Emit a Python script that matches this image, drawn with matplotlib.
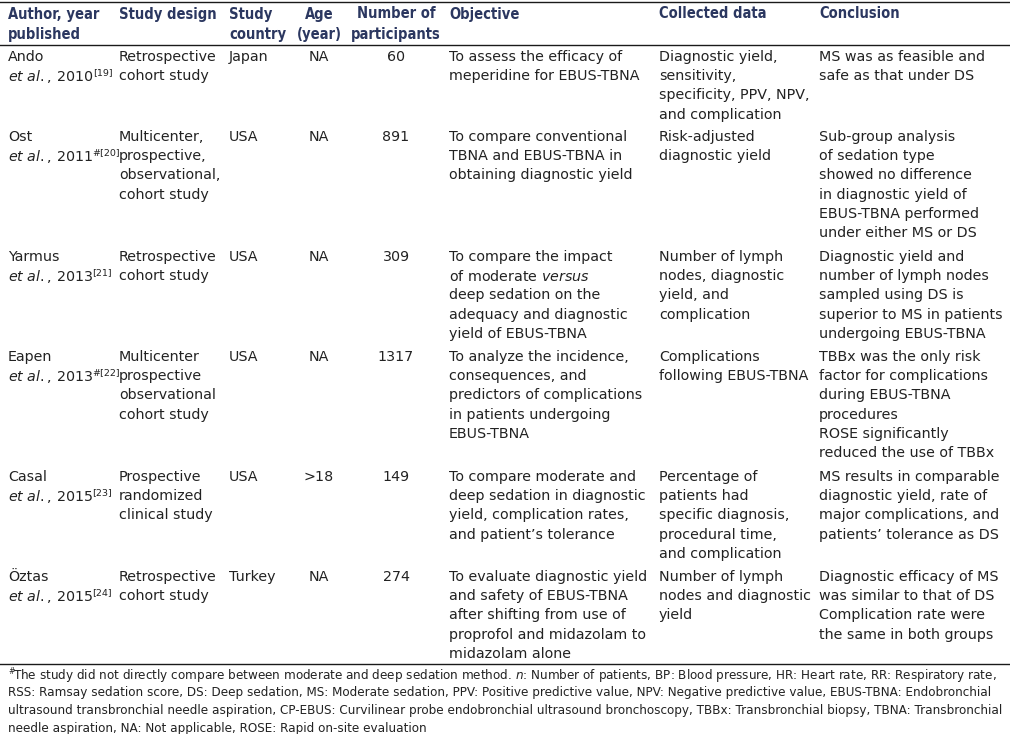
import matplotlib.pyplot as plt

plt.rcParams['font.family'] = ['DejaVu Sans']
plt.rcParams['mathtext.fontset'] = 'dejavusans'

# table content
headers = [["Author, year", "published"], ["Study design"], ["Study", "country"],
           ["Age", "(year)"], ["Number of", "participants"], ["Objective"],
           ["Collected data"], ["Conclusion"]]

author_names = ["Ando", "Ost", "Yarmus", "Eapen", "Casal", "Öztas"]
years = ["2010", "2011", "2013", "2013", "2015", "2015"]
ref_marks = ["[19]", "#[20]", "[21]", "#[22]", "[23]", "[24]"]
designs = [
    ["Retrospective", "cohort study"],
    ["Multicenter,", "prospective,", "observational,", "cohort study"],
    ["Retrospective", "cohort study"],
    ["Multicenter", "prospective", "observational", "cohort study"],
    ["Prospective", "randomized", "clinical study"],
    ["Retrospective", "cohort study"],
]
countries = ["Japan", "USA", "USA", "USA", "USA", "Turkey"]
ages = ["NA", "NA", "NA", "NA", ">18", "NA"]
participants = ["60", "891", "309", "1317", "149", "274"]
objectives = [
    ["To assess the efficacy of", "meperidine for EBUS-TBNA"],
    ["To compare conventional", "TBNA and EBUS-TBNA in", "obtaining diagnostic yield"],
    ["To compare the impact", r"of moderate $\mathit{versus}$", "deep sedation on the",
     "adequacy and diagnostic", "yield of EBUS-TBNA"],
    ["To analyze the incidence,", "consequences, and", "predictors of complications",
     "in patients undergoing", "EBUS-TBNA"],
    ["To compare moderate and", "deep sedation in diagnostic", "yield, complication rates,",
     "and patient\u2019s tolerance"],
    ["To evaluate diagnostic yield", "and safety of EBUS-TBNA", "after shifting from use of",
     "proprofol and midazolam to", "midazolam alone"],
]
collected = [
    ["Diagnostic yield,", "sensitivity,", "specificity, PPV, NPV,", "and complication"],
    ["Risk-adjusted", "diagnostic yield"],
    ["Number of lymph", "nodes, diagnostic", "yield, and", "complication"],
    ["Complications", "following EBUS-TBNA"],
    ["Percentage of", "patients had", "specific diagnosis,", "procedural time,", "and complication"],
    ["Number of lymph", "nodes and diagnostic", "yield"],
]
conclusions = [
    ["MS was as feasible and", "safe as that under DS"],
    ["Sub-group analysis", "of sedation type", "showed no difference", "in diagnostic yield of",
     "EBUS-TBNA performed", "under either MS or DS"],
    ["Diagnostic yield and", "number of lymph nodes", "sampled using DS is",
     "superior to MS in patients", "undergoing EBUS-TBNA"],
    ["TBBx was the only risk", "factor for complications", "during EBUS-TBNA", "procedures",
     "ROSE significantly", "reduced the use of TBBx"],
    ["MS results in comparable", "diagnostic yield, rate of", "major complications, and",
     "patients\u2019 tolerance as DS"],
    ["Diagnostic efficacy of MS", "was similar to that of DS", "Complication rate were",
     "the same in both groups"],
]
footnote = [
    r"The study did not directly compare between moderate and deep sedation method. $\mathit{n}$: Number of patients, BP: Blood pressure, HR: Heart rate, RR: Respiratory rate,",
    "RSS: Ramsay sedation score, DS: Deep sedation, MS: Moderate sedation, PPV: Positive predictive value, NPV: Negative predictive value, EBUS-TBNA: Endobronchial",
    "ultrasound transbronchial needle aspiration, CP-EBUS: Curvilinear probe endobronchial ultrasound bronchoscopy, TBBx: Transbronchial biopsy, TBNA: Transbronchial",
    "needle aspiration, NA: Not applicable, ROSE: Rapid on-site evaluation",
]

# layout (pixels)
W, H = 1010, 734
col_x = [8, 119, 229, 319, 396, 449, 659, 819]
col_ha = ["left", "left", "left", "center", "center", "left", "left", "left"]
row_y = [57, 137, 257, 357, 477, 577]
line_h = 19.2
fs = 10.3
head_color = "#2b3760"
text_color = "#222222"

fig = plt.figure(figsize=(W / 100, H / 100), dpi=100)
ax = fig.add_axes([0, 0, 1, 1])
ax.set_xlim(0, W)
ax.set_ylim(H, 0)
ax.axis("off")

# rules
for y in [1.5, 45, 664]:
    ax.plot([0, W], [y, y], color="#1a1a1a", linewidth=1.0)

for x, ha, lines in zip(col_x, col_ha, headers):
    for k, s in enumerate(lines):
        ax.text(x, 14 + k * 20, s, ha=ha, va="center", fontsize=10.5, fontweight="bold",
                fontstretch="condensed", color=head_color)

for i, y0 in enumerate(row_y):
    author = [author_names[i], r"$\mathit{et\ al.}$, " + years[i]]
    cells = [author, designs[i], [countries[i]], [ages[i]], [participants[i]],
             objectives[i], collected[i], conclusions[i]]
    for x, ha, lines in zip(col_x, col_ha, cells):
        for k, s in enumerate(lines):
            t = ax.text(x, y0 + k * line_h, s, ha=ha, va="center", fontsize=fs, color=text_color)
            if x == col_x[0] and k == 1:
                # reference number as superscript after the year
                ax.annotate(ref_marks[i], xy=(1.0, 0.72), xycoords=t, xytext=(-0.5, 0),
                            textcoords="offset points", ha="left", va="center",
                            fontsize=6.8, color=text_color)

for k, s in enumerate(footnote):
    ax.text(13 if k == 0 else 8, 675 + k * 17.8, s, ha="left", va="center",
            fontsize=8.68, color=text_color)
ax.text(8, 671, "#", ha="left", va="center", fontsize=5.5, color=text_color)

fig.savefig("out.png", dpi=100)
